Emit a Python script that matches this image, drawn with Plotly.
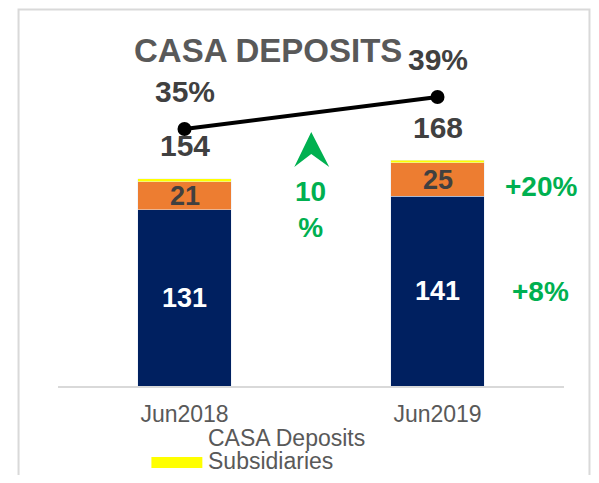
import plotly.graph_objects as go

# ---- data ----
categories = ["Jun2018", "Jun2019"]
casa_deposits = [131, 141]
casa_other = [21, 25]
subsidiaries = [2, 2]
totals = [154, 168]
casa_ratio = [35, 39]
ratio_labels = ["35%", "39%"]
growth_labels = ["+20%", "+8%"]
total_growth = "10<br>%"
legend_names = ["CASA Deposits", "Subsidiaries"]

NAVY = "#002060"
ORANGE = "#ed7d31"
YELLOW = "#ffff00"
GREEN = "#00b050"
DARK = "#404040"
GRAY = "#595959"
FONT = "Liberation Sans, Arial, sans-serif"

# page body has an 8px margin: the figure starts at (8, 8) in the window
OFF = 8
W, H = 599 - 2 * OFF, 483 - 2 * OFF
L, R, T, B = 57.5, 564.0, 70.0, 386.0   # plot area in window pixels


def px(x):
    return (x - L) / (R - L)


def py(y):
    return (B - y) / (B - T)


fig = go.Figure()
fig.add_trace(go.Bar(x=categories, y=casa_deposits, marker_color=NAVY, width=0.37,
                     name=legend_names[0], showlegend=False, hoverinfo="skip"))
fig.add_trace(go.Bar(x=categories, y=casa_other, marker_color=ORANGE, width=0.37,
                     showlegend=False, hoverinfo="skip"))
fig.add_trace(go.Bar(x=categories, y=subsidiaries, marker_color=YELLOW, width=0.37,
                     name=legend_names[1], showlegend=False, hoverinfo="skip"))
fig.add_trace(go.Scatter(x=categories, y=casa_ratio, yaxis="y2", mode="lines+markers",
                         line=dict(color="black", width=4),
                         marker=dict(color="black", size=14),
                         showlegend=False, hoverinfo="skip"))

ann = []


def add(**kw):
    kw.setdefault("showarrow", False)
    kw.setdefault("xanchor", "center")
    kw.setdefault("yanchor", "middle")
    ann.append(kw)


for i, c in enumerate(categories):
    add(x=c, y=casa_deposits[i] / 2, xref="x", yref="y", text=str(casa_deposits[i]),
        font=dict(family=FONT, size=27, color="white", weight="bold"))
    add(x=c, y=casa_deposits[i] + casa_other[i] / 2, xref="x", yref="y",
        text=str(casa_other[i]), font=dict(family=FONT, size=27, color=DARK, weight="bold"))
    add(x=c, y=totals[i], xref="x", yref="y", text=str(totals[i]), yshift=33,
        font=dict(family=FONT, size=30, color=DARK, weight="bold"))
    add(x=c, y=casa_ratio[i], xref="x", yref="y2", text=ratio_labels[i], yshift=38,
        font=dict(family=FONT, size=30, color=DARK, weight="bold"))

add(x=px(268), y=py(51), xref="paper", yref="paper", text="CASA DEPOSITS",
    font=dict(family=FONT, size=33, color=GRAY, weight="bold"))
add(x=px(310), y=py(209), xref="paper", yref="paper", text=total_growth,
    font=dict(family=FONT, size=28, color=GREEN, weight="bold"))
add(x=px(541), y=py(186), xref="paper", yref="paper", text=growth_labels[0],
    font=dict(family=FONT, size=28, color=GREEN, weight="bold"))
add(x=px(540), y=py(291), xref="paper", yref="paper", text=growth_labels[1],
    font=dict(family=FONT, size=28, color=GREEN, weight="bold"))
add(x=px(206), y=py(438), xref="paper", yref="paper", text=legend_names[0], xanchor="left",
    font=dict(family=FONT, size=23, color=GRAY))
add(x=px(206), y=py(461), xref="paper", yref="paper", text=legend_names[1], xanchor="left",
    font=dict(family=FONT, size=23, color=GRAY))

shapes = [
    dict(type="rect", xref="paper", yref="paper", x0=px(18), x1=px(589.5), y0=py(495), y1=py(9.5),
         line=dict(color="#d9d9d9", width=2), fillcolor="rgba(0,0,0,0)", layer="above"),
    dict(type="path", xref="paper", yref="paper",
         path=f"M{px(311)},{py(132)} L{px(329)},{py(167)} L{px(311)},{py(154)} L{px(294)},{py(167)} Z",
         fillcolor=GREEN, line=dict(width=0)),
    dict(type="rect", xref="paper", yref="paper", x0=px(151), x1=px(202), y0=py(468), y1=py(457),
         fillcolor=YELLOW, line=dict(width=0)),
]

fig.update_layout(
    width=W, height=H,
    margin=dict(l=L - OFF, r=W + OFF - R, t=T - OFF, b=H + OFF - B, pad=0),
    barmode="stack",
    plot_bgcolor="white", paper_bgcolor="white",
    showlegend=False,
    annotations=ann, shapes=shapes,
    xaxis=dict(range=[-0.5, 1.5], showline=True, linecolor="#d9d9d9", linewidth=2,
               showgrid=False, ticks="", tickfont=dict(family=FONT, size=23, color=GRAY),
               ticklabelstandoff=6),
    yaxis=dict(range=[0, (B - T) / 1.345], visible=False, showgrid=False),
    yaxis2=dict(range=[2.875, 2.875 + (B - T) / 8], overlaying="y", visible=False, showgrid=False),
)

fig.write_html("out.html")
